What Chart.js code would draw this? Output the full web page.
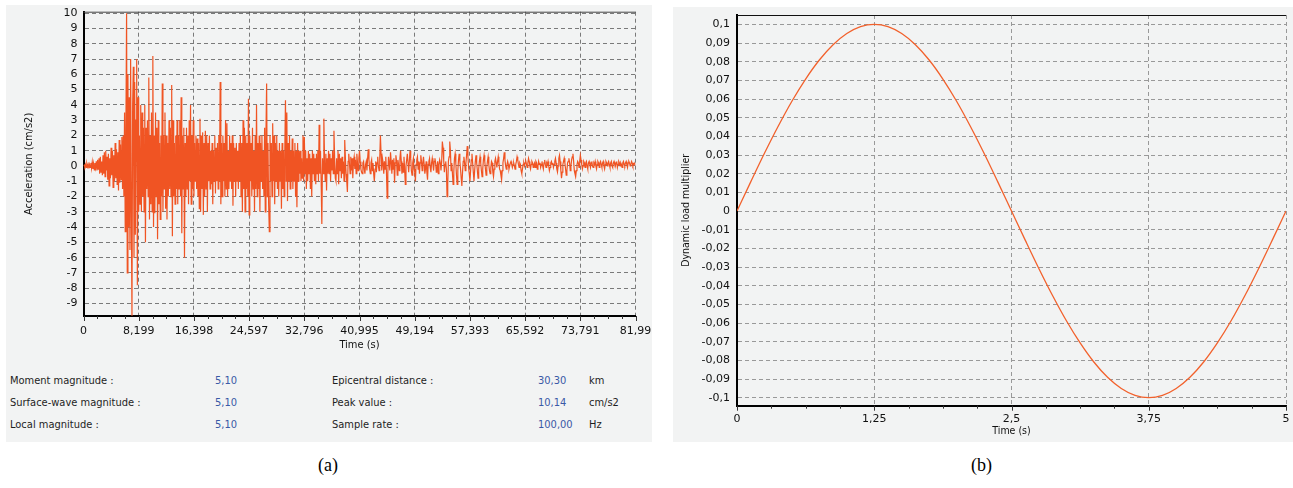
<!DOCTYPE html>
<html>
<head>
<meta charset="utf-8">
<script src="https://cdn.jsdelivr.net/npm/chart.js@4.4.1/dist/chart.umd.min.js"></script>
<style>
  html,body{margin:0;padding:0;background:#fff;}
  body{width:1293px;height:488px;position:relative;overflow:hidden;font-family:"DejaVu Sans Condensed","DejaVu Sans",sans-serif;}
  .panel{position:absolute;background:#f2f3f3;}
  canvas{position:absolute;}
  .t{position:absolute;font-size:11px;line-height:13px;color:#1e1e1e;white-space:nowrap;}
  .v{color:#3a59a6;}
  .cap{position:absolute;font-family:"Liberation Serif","Times New Roman",serif;font-size:18px;color:#000;}
</style>
</head>
<body>
<div class="panel" style="left:6px;top:5px;width:646px;height:437px;"></div>
<div class="panel" style="left:673px;top:7px;width:620px;height:435px;"></div>
<canvas id="ca" width="646" height="355" style="left:6px;top:5px;width:646px;height:355px;"></canvas>
<canvas id="cb" width="620" height="435" style="left:673px;top:7px;width:620px;height:435px;"></canvas>

<div class="t" style="left:10px;top:374px;">Moment magnitude :</div>
<div class="t v" style="left:215px;top:374px;">5,10</div>
<div class="t" style="left:332px;top:374px;">Epicentral distance :</div>
<div class="t v" style="left:538px;top:374px;">30,30</div>
<div class="t" style="left:589px;top:374px;">km</div>

<div class="t" style="left:10px;top:396px;">Surface-wave magnitude :</div>
<div class="t v" style="left:215px;top:396px;">5,10</div>
<div class="t" style="left:332px;top:396px;">Peak value :</div>
<div class="t v" style="left:538px;top:396px;">10,14</div>
<div class="t" style="left:589px;top:396px;">cm/s2</div>

<div class="t" style="left:10px;top:418px;">Local magnitude :</div>
<div class="t v" style="left:215px;top:418px;">5,10</div>
<div class="t" style="left:332px;top:418px;">Sample rate :</div>
<div class="t v" style="left:538px;top:418px;">100,00</div>
<div class="t" style="left:589px;top:418px;">Hz</div>

<div class="cap" style="left:318px;top:455px;">(a)</div>
<div class="cap" style="left:971px;top:455px;">(b)</div>

<script>
const accelStep = 0.1;
const accelValues = [
 0,0.05,-0.05,0.1,-0.1,0.15,-0.05,0.1,-0.15,0.1,
 -0.1,0.2,-0.15,0.25,-0.2,0.15,-0.25,0.2,-0.1,0.3,
 -0.3,0.4,-0.2,0.5,-0.5,0.6,-0.4,0.3,-0.6,0.7,
 -0.5,0.9,-0.7,1.0,-0.3,0.6,-0.9,0.8,-1.3,0.5,
 -0.8,1.2,-0.6,1.0,-1.4,0.7,-1.0,1.5,-0.8,1.1,
 -1.2,0.9,-1.6,1.7,-1.1,1.4,-0.9,1.9,-1.5,2.0,
 -2.0,3.5,-4.3,2.5,10.0,-7.0,6.0,-4.0,4.5,-5.5,
 7.0,-3.0,-9.8,4.0,6.5,-6.0,5.5,-4.5,3.0,7.0,
 -7.8,4.5,-3.0,2.0,-2.5,4.0,-3.0,3.5,-2.0,2.5,
 -3.0,4.0,-5.0,2.5,-1.5,3.0,-2.0,5.8,-3.5,2.0,
 -2.5,3.5,-3.0,7.2,-4.0,2.0,-3.1,3.5,-2.0,2.5,
 -4.8,3.0,-2.5,1.5,-3.5,2.0,-2.0,5.4,-3.0,2.0,
 -1.5,3.5,-2.8,2.0,-3.5,1.5,-2.0,3.0,-1.5,2.5,
 -2.0,5.3,-4.6,3.0,-2.0,1.5,-2.5,2.0,-1.5,3.0,
 -2.5,2.0,-1.5,3.0,-2.0,4.5,-4.4,2.0,-1.5,2.5,
 -6.0,1.5,-2.0,2.5,-1.5,2.0,-2.5,3.0,-1.0,4.0,
 -2.5,2.0,-1.5,3.0,-2.0,1.5,-1.0,2.0,-1.5,1.8,
 -2.0,1.5,-2.8,3.1,-3.0,2.0,-1.5,2.2,-3.2,1.5,
 -2.0,2.3,-1.5,2.0,-3.0,1.5,-1.0,2.0,-1.5,1.0,
 -1.2,1.5,-2.5,1.0,-1.0,2.0,-1.8,1.2,-1.0,1.5,
 -1.5,2.0,-1.0,5.5,-2.5,1.5,-2.0,2.0,-1.0,1.5,
 -2.0,3.0,-1.5,2.8,-2.0,1.0,-1.5,2.0,-1.0,1.5,
 -1.5,2.0,-2.6,1.5,-1.0,1.2,-2.0,1.5,-1.0,1.0,
 -1.5,1.5,-1.0,2.0,-2.0,1.5,-3.0,3.0,-1.5,2.5,
 -3.0,2.0,-1.5,1.5,-2.0,4.4,-3.2,2.0,-1.0,1.5,
 -2.0,2.5,-1.5,1.0,-3.0,2.0,-1.5,4.0,-2.0,1.5,
 -1.5,2.0,-3.0,1.5,-1.0,2.0,-1.5,1.0,-2.0,2.5,
 -3.0,2.0,5.4,-2.0,1.5,-2.5,-4.3,2.0,-1.0,1.5,
 -2.0,2.8,-1.0,2.0,-2.5,1.5,-1.0,2.0,-1.5,1.0,
 -2.0,1.5,-1.0,1.0,-2.8,1.5,-1.5,1.0,-2.0,1.0,
 4.3,-1.0,3.5,-2.3,1.5,-1.0,2.0,-1.5,1.0,-1.0,
 1.8,-1.5,1.0,-1.0,1.5,-2.0,1.0,-2.7,1.5,-1.0,
 1.0,-0.5,1.0,-1.0,0.5,-0.8,2.0,-1.0,1.9,-0.5,
 1.0,-1.5,0.5,-1.0,1.0,-0.5,0.8,-1.5,0.5,-2.0,
 1.0,-0.5,0.8,-1.0,0.5,-1.2,0.8,-0.5,1.0,-1.0,
 2.7,-0.5,1.0,-1.0,-3.8,0.5,-0.5,3.1,0.5,-1.0,
 0.8,-1.6,0.5,-0.5,1.0,-0.5,0.8,-1.0,0.5,-0.3,
 1.0,-0.5,2.3,0.5,-0.8,-1.0,0.5,-0.5,1.0,-1.2,
 0.8,-0.3,0.5,-0.8,0.6,-0.5,0.3,-1.0,1.7,0.5,
 -0.5,-1.0,-1.7,0.3,0.8,0.2,-0.5,0.6,-0.3,0.5,
 -0.8,0.3,0.6,-0.2,0.4,-0.5,0.8,0.2,-0.3,0.5,
 1.0,0.3,-0.2,-0.4,-0.5,0.2,0.3,-0.2,-0.5,0.1,
 0.3,-0.3,0.5,1.1,0.4,-0.2,-0.5,0.2,0.4,-0.3,
 0.2,-0.5,-1.0,-0.2,0.3,-0.4,0.2,0.6,0.0,-0.3,
 0.4,2.0,0.8,-0.3,0.5,0.2,-0.5,0.3,-0.2,0.6,
 -0.4,-2.1,-0.5,0.6,0.2,-0.3,0.9,0.3,-0.5,0.4,
 -0.2,0.5,-1.1,0.2,0.7,0.3,-0.6,0.4,0.1,-0.3,
 0.5,1.0,0.3,-0.5,0.2,-0.4,0.6,-0.2,-1.2,0.0,
 0.4,0.8,0.2,-0.4,0.3,1.0,0.5,-0.3,-0.6,0.2,
 0.5,-0.2,-0.4,-1.0,0.1,0.4,0.6,-0.2,0.3,-0.5,
 0.2,0.7,0.3,-0.3,0.2,0.6,0.1,-0.5,-0.2,0.3,
 -0.4,-0.9,0.1,0.3,0.5,-0.1,-0.4,0.2,0.5,0.1,
 -0.3,0.3,0.5,0.2,-0.4,-0.2,0.3,-0.5,0.1,0.4,
 0.2,-0.3,0.3,1.6,1.2,0.4,-0.4,0.1,0.3,-0.2,
 -2.0,-1.2,0.3,0.6,1.6,1.0,-0.3,0.2,-0.5,-1.2,
 -0.4,0.5,0.8,0.2,-0.6,-1.2,-0.3,0.4,0.8,0.3,
 -0.2,-0.8,-1.3,-0.4,0.3,0.6,0.2,-0.3,0.2,0.7,
 1.3,0.6,-0.1,-0.5,-1.0,-0.3,0.4,0.8,0.2,-0.4,
 -1.0,-0.3,0.3,0.7,0.2,-0.3,-0.8,-0.2,0.3,0.6,
 0.2,-0.3,-0.7,-0.2,0.4,0.7,0.3,-0.2,-0.6,-0.1,
 0.3,0.6,0.1,-0.3,-0.5,-0.1,0.3,0.2,-0.4,-0.7,
 -0.2,0.3,0.5,0.2,-0.1,0.3,0.6,0.2,-0.2,-0.3,
 -0.6,-0.9,-0.3,0.2,0.5,0.9,0.4,0.0,-0.2,0.1,
 0.3,0.1,-0.2,0.0,0.2,0.3,0.1,-0.1,0.1,0.2,
 0.0,-0.2,0.1,0.3,0.6,0.4,0.1,-0.1,0.2,0.1,
 -0.3,-0.5,-0.2,0.1,0.2,0.0,0.2,0.3,0.1,-0.1,
 0.2,0.5,0.3,0.0,-0.2,0.1,0.3,0.2,-0.1,0.1,
 0.2,-0.1,0.3,0.2,-0.2,0.0,0.3,0.1,0.2,-0.1,
 0.1,0.3,0.0,-0.2,0.2,0.4,0.1,-0.1,0.2,0.1,
 0.3,0.0,-0.3,-0.1,0.2,0.3,0.1,0.2,-0.1,0.1,
 0.3,0.5,0.2,-0.2,-0.4,0.0,0.5,0.7,0.3,-0.3,
 -0.8,-0.4,0.1,0.3,0.5,0.2,-0.2,-0.6,-0.3,0.2,
 0.3,0.5,0.2,-0.3,0.0,0.4,0.6,0.8,0.3,-0.3,
 -0.5,-0.7,-0.3,0.1,0.3,0.2,-0.1,0.3,0.7,0.4,
 0.1,-0.2,0.0,0.3,0.2,-0.1,0.2,0.3,0.0,-0.2,
 0.2,0.3,0.1,-0.1,0.2,0.3,0.0,-0.1,0.2,0.1,
 0.3,0.0,-0.2,0.1,0.3,0.2,-0.1,0.2,0.3,0.1,
 -0.1,0.2,0.3,0.0,-0.2,0.1,0.3,0.2,0.0,0.2,
 0.3,0.1,-0.1,0.2,0.3,0.0,-0.1,0.2,0.3,0.1,
 0.0,0.2,0.3,-0.1,0.1,0.3,0.2,0.0,0.2,0.1,
 -0.1,0.2,0.3,0.1,0.0,0.2,0.3,0.1,-0.1,0.2,
 0.3,0.2,0.0,0.1,0.3,0.2,0.0,0.1,0.2,0.1,
 0.1
];
const accelXTicks = [0, 8.199, 16.398, 24.597, 32.796, 40.995, 49.194, 57.393, 65.592, 73.791, 81.99];
const accelXLabels = ["0","8,199","16,398","24,597","32,796","40,995","49,194","57,393","65,592","73,791","81,99"];
const accelYTicks = [-9,-8,-7,-6,-5,-4,-3,-2,-1,0,1,2,3,4,5,6,7,8,9,10];

// ---------- Chart (b): dynamic load multiplier ----------
const loadTimes = [0,0.125,0.25,0.375,0.5,0.625,0.75,0.875,1,1.125,1.25,1.375,1.5,1.625,1.75,1.875,2,2.125,2.25,2.375,2.5,
  2.625,2.75,2.875,3,3.125,3.25,3.375,3.5,3.625,3.75,3.875,4,4.125,4.25,4.375,4.5,4.625,4.75,4.875,5];
const loadValues = [0,0.0156,0.0309,0.0454,0.0588,0.0707,0.0809,0.0891,0.0951,0.0988,0.1,0.0988,0.0951,0.0891,0.0809,0.0707,0.0588,0.0454,0.0309,0.0156,0,
  -0.0156,-0.0309,-0.0454,-0.0588,-0.0707,-0.0809,-0.0891,-0.0951,-0.0988,-0.1,-0.0988,-0.0951,-0.0891,-0.0809,-0.0707,-0.0588,-0.0454,-0.0309,-0.0156,0];
const loadXTicks = [0,1.25,2.5,3.75,5];
const loadXLabels = ["0","1,25","2,5","3,75","5"];
const loadYTicks = [-0.1,-0.09,-0.08,-0.07,-0.06,-0.05,-0.04,-0.03,-0.02,-0.01,0,0.01,0.02,0.03,0.04,0.05,0.06,0.07,0.08,0.09,0.1];
const loadYLabels = ["-0,1","-0,09","-0,08","-0,07","-0,06","-0,05","-0,04","-0,03","-0,02","-0,01","0","0,01","0,02","0,03","0,04","0,05","0,06","0,07","0,08","0,09","0,1"];

const tickFont = {family:"'DejaVu Sans', sans-serif", size:11};
const titleFontA = {family:"'DejaVu Sans Condensed','DejaVu Sans', sans-serif", size:11};
const titleFontB = {family:"'DejaVu Sans Condensed','DejaVu Sans', sans-serif", size:10.5};
const textColor = '#111';

const framePlugin = {
  id:'frame',
  afterDatasetsDraw(chart, args, o){
    const {ctx, chartArea:a, scales:{x}} = chart;
    ctx.save();
    ctx.setLineDash([]);
    ctx.strokeStyle = o.topColor; ctx.lineWidth = 1;
    ctx.beginPath(); ctx.moveTo(a.left, a.top+0.5); ctx.lineTo(a.right, a.top+0.5); ctx.stroke();
    ctx.strokeStyle = '#333';
    const m = o.majors;
    for (let i=0;i<m.length;i++){
      const px = Math.round(x.getPixelForValue(m[i]))+0.5;
      ctx.beginPath(); ctx.moveTo(px, a.bottom); ctx.lineTo(px, a.bottom+5); ctx.stroke();
      if (i < m.length-1){
        for (let k=1;k<o.sub;k++){
          const q = Math.round(x.getPixelForValue(m[i] + (m[i+1]-m[i])*k/o.sub))+0.5;
          ctx.beginPath(); ctx.moveTo(q, a.bottom); ctx.lineTo(q, a.bottom+3); ctx.stroke();
        }
      }
    }
    ctx.restore();
  }
};

function axisCommon(gridColor){
  return {
    grid:{color:gridColor, lineWidth:1, drawTicks:false},
    border:{display:true, color:'#000', width:2, dash:[4,3]}
  };
}
function fixX(h){ return s=>{ s.height = h; s.paddingLeft = 0; s.paddingRight = 0; }; }
function fixY(w){ return s=>{ s.width = w; s.paddingTop = 0; s.paddingBottom = 0; }; }

new Chart(document.getElementById('ca'), {
  type:'line',
  data:{datasets:[{
    data: accelValues.map((v,i)=>({x:i*accelStep, y:v})),
    borderColor:'#f05423', borderWidth:1.2, pointRadius:0, tension:0, fill:false
  }]},
  options:{
    responsive:false, animation:false, events:[],
    layout:{padding:{top:6.7, right:16.5, left:0, bottom:0}},
    plugins:{legend:{display:false}, tooltip:{enabled:false}, frame:{topColor:'#444', majors:accelXTicks, sub:4}},
    scales:{
      x:{type:'linear', min:0, max:81.99,
        afterBuildTicks:s=>{s.ticks = accelXTicks.map(v=>({value:v}));},
        afterFit:fixX(44),
        ticks:{autoSkip:false, maxRotation:0, font:tickFont, color:textColor, padding:9, callback:(v,i)=>accelXLabels[i]},
        title:{display:true, text:'Time (s)', font:titleFontA, color:textColor, padding:{top:0,bottom:8}},
        ...axisCommon('#7a7a7a')
      },
      y:{type:'linear', min:-9.82, max:10.1,
        afterBuildTicks:s=>{s.ticks = accelYTicks.map(v=>({value:v}));},
        afterFit:fixY(77.5),
        ticks:{autoSkip:false, font:tickFont, color:textColor, padding:6, callback:v=>String(v)},
        title:{display:true, text:'Acceleration (cm/s2)', font:titleFontA, color:textColor, padding:{top:17,bottom:0}},
        ...axisCommon('#7a7a7a')
      }
    }
  },
  plugins:[framePlugin]
});

new Chart(document.getElementById('cb'), {
  type:'line',
  data:{datasets:[{
    data: loadValues.map((v,i)=>({x:loadTimes[i], y:v})),
    borderColor:'#f2612c', borderWidth:1.3, pointRadius:0, cubicInterpolationMode:'monotone', fill:false
  }]},
  options:{
    responsive:false, animation:false, events:[],
    layout:{padding:{top:8, right:7, left:0, bottom:0}},
    plugins:{legend:{display:false}, tooltip:{enabled:false}, frame:{topColor:'#111', majors:loadXTicks, sub:4}},
    scales:{
      x:{type:'linear', min:0, max:5,
        afterBuildTicks:s=>{s.ticks = loadXTicks.map(v=>({value:v}));},
        afterFit:fixX(36.3),
        ticks:{autoSkip:false, maxRotation:0, font:tickFont, color:textColor, padding:7, callback:(v,i)=>loadXLabels[i]},
        title:{display:true, text:'Time (s)', font:titleFontB, color:textColor, padding:{top:0,bottom:4}},
        ...axisCommon('#999')
      },
      y:{type:'linear', min:-0.1043, max:0.105,
        afterBuildTicks:s=>{s.ticks = loadYTicks.map(v=>({value:v}));},
        afterFit:fixY(64),
        ticks:{autoSkip:false, font:tickFont, color:textColor, padding:7, callback:(v,i)=>loadYLabels[i]},
        title:{display:true, text:'Dynamic load multiplier', font:titleFontB, color:textColor, padding:{top:7,bottom:0}},
        ...axisCommon('#999')
      }
    }
  },
  plugins:[framePlugin]
});
</script>
</body>
</html>
